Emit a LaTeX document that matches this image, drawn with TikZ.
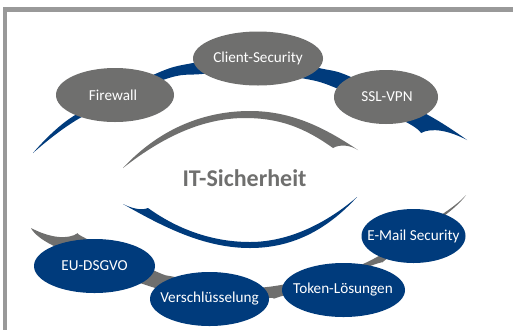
\documentclass[tikz,border=0pt]{standalone}
\usepackage{fontspec}
\setmainfont{Carlito}
\definecolor{myblue}{HTML}{003B7C}
\definecolor{mygray}{HTML}{6F6F6E}
\definecolor{myframe}{HTML}{999999}
\usetikzlibrary{shapes.geometric}
\newcommand{\ovaltext}[2][0pt]{\makebox[0pt][c]{\hspace*{#1}#2}}
\tikzset{
  oval/.style={ellipse,minimum width=#1,minimum height=54pt,inner sep=0pt,text=white,font=\fontsize{15.2}{17}\selectfont},
  grayoval/.style={oval=#1,fill=mygray},
  blueoval/.style={oval=#1,fill=myblue},
  swooshblue/.style={fill=myblue},
  swooshgray/.style={fill=mygray}
}
\begin{document}
\begin{tikzpicture}[x=1pt,y=-1pt]
\useasboundingbox (0,0) rectangle (513,330);
\fill[white] (0,0) rectangle (513,330);
\fill[myframe] (3,7) rectangle (513,12);
\fill[myframe] (3,7) rectangle (7,330);
% outer blue swoosh
\path[swooshblue] plot[smooth,tension=0.6] coordinates {(33,153) (72,117) (153,75) (193,63) (258,55) (319,68) (351,77) (428,115) (467,140)}
  .. controls (450,131) and (432,127) .. (421,133)
  -- plot[smooth,tension=0.6] coordinates {(421,133) (406,122) (336,88) (301,78) (250,71) (202,74) (163,80) (80,118) (33,153)} -- cycle;
% outer gray swoosh
\path[swooshgray] plot[smooth,tension=0.6] coordinates {(466,195) (444,213) (363,264) (281,285) (230,287) (175,277) (155,271) (87,239) (78,233)}
  .. controls (68,240) and (50,238) .. (31,228)
  -- plot[smooth,tension=0.6] coordinates {(31,228) (52,245) (140,283) (210,300) (269,298) (282,296) (373,265) (388,258) (449,212) (466,195)} -- cycle;
% inner gray arc
\path[swooshgray] (123,168) .. controls (160,128) and (205,111) .. (250,111)
  .. controls (292,111) and (325,128) .. (358,150)
  .. controls (350,145) and (340,144) .. (333,148)
  .. controls (305,128) and (280,118) .. (245,118)
  .. controls (205,118) and (165,135) .. (123,168) -- cycle;
% inner blue arc
\path[swooshblue] (123,204) .. controls (131,208) and (141,211) .. (148,208)
  .. controls (180,231) and (215,242) .. (250,242)
  .. controls (290,242) and (328,222) .. (357,197)
  .. controls (325,232) and (290,248) .. (250,248)
  .. controls (205,248) and (165,228) .. (123,204) -- cycle;
\node[grayoval=118pt] (fw) at (115,95) {\ovaltext[-4pt]{Firewall}};
\node[grayoval=130pt] (cs) at (258,58.5) {\ovaltext{Client-Security}};
\node[grayoval=104pt] (ssl) at (386,97) {\ovaltext[2pt]{SSL-VPN}};
\node[blueoval=121pt] (eu) at (94.5,266) {\ovaltext{EU-DSGVO}};
\node[blueoval=119pt] (vs) at (209.5,299) {\ovaltext{Verschlüsselung}};
\node[blueoval=123pt] (tk) at (343.5,290) {\ovaltext[-1pt]{Token-Lösungen}};
\node[blueoval=104pt] (em) at (413.5,236) {\ovaltext{E-Mail Security}};
\node[text=mygray,font=\bfseries\fontsize{24}{27}\selectfont,inner sep=0pt] (title) at (244.5,178) {IT-Sicherheit};
\end{tikzpicture}
\end{document}
